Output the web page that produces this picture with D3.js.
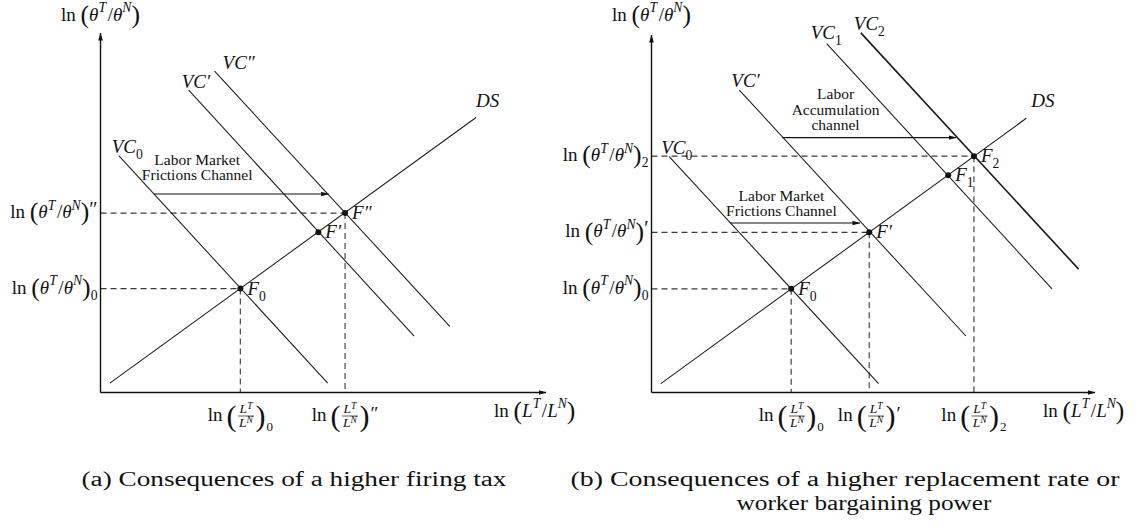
<!DOCTYPE html>
<html><head><meta charset="utf-8">
<script src="https://cdn.jsdelivr.net/npm/d3@7"></script>
<style>
body{margin:0;background:#fff}
svg{display:block}
text{font-family:"Liberation Serif","Times New Roman",serif;fill:#111;white-space:pre}
</style></head><body>
<svg id="chart" width="1138" height="528"></svg>
<script>
// ================= DATA (model units, 0–10 on both axes) =================
// ---- Panel (a): higher firing tax ----
const aLineLabel = ["DS", "VC", "VC′", "VC″"];
const aLineSub   = ["", "0", "", ""];
const aLineX1 = [0.21, 0.41, 1.98, 2.56];
const aLineY1 = [0.26, 6.59, 8.41, 8.94];
const aLineX2 = [8.43, 5.10, 7.04, 7.84];
const aLineY2 = [7.65, 0.26, 1.57, 1.84];
const aPointLabel = ["F", "F′", "F″"];
const aPointSub   = ["0", "", ""];
const aPointX = [3.14, 4.89, 5.49];
const aPointY = [2.89, 4.46, 4.99];
const aGuideIdx = [0, 2];            // equilibria with dashed guides / tick labels
const aTickSub  = ["0", ""];
const aTickSup  = ["", "″"];
const aArrowX1 = [1.20], aArrowX2 = [5.12], aArrowY = [5.52];
const aArrowText  = [["Labor Market", "Frictions Channel"]];
const aArrowTextX = [2.17], aArrowTextY = [5.91];

// ---- Panel (b): higher replacement rate / bargaining power ----
const bLineLabel = ["DS", "VC", "VC′", "VC", "VC"];
const bLineSub   = ["", "0", "", "1", "2"];
const bLineX1 = [0.21, 0.40, 1.98, 3.95, 4.72];
const bLineY1 = [0.25, 6.60, 8.46, 9.76, 10.06];
const bLineX2 = [8.45, 5.12, 7.09, 9.03, 9.63];
const bLineY2 = [7.67, 0.25, 1.58, 2.90, 3.45];
const bPointLabel = ["F", "F′", "F", "F"];
const bPointSub   = ["0", "", "1", "2"];
const bPointX = [3.15, 4.91, 6.69, 7.27];
const bPointY = [2.90, 4.48, 6.08, 6.61];
const bGuideIdx = [0, 1, 3];
const bTickSub  = ["0", "", "2"];
const bTickSup  = ["", "′", ""];
const bArrowX1 = [1.77, 2.95], bArrowX2 = [4.70, 6.87], bArrowY = [4.74, 7.13];
const bArrowText  = [["Labor Market", "Frictions Channel"], ["Labor", "Accumulation", "channel"]];
const bArrowTextX = [2.93, 4.15], bArrowTextY = [4.93, 7.34];

// ---- captions ----
const captionA = ["(a) Consequences of a higher firing tax"];
const captionB = ["(b) Consequences of a higher replacement rate or", "worker bargaining power"];

// ================= LAYOUT =================
const panels = [
  { x: d3.scaleLinear().domain([0,10]).range([100.5, 546]),
    y: d3.scaleLinear().domain([0,10]).range([392.5, 33]),
    L: {label:aLineLabel, sub:aLineSub, x1:aLineX1, y1:aLineY1, x2:aLineX2, y2:aLineY2},
    P: {label:aPointLabel, sub:aPointSub, x:aPointX, y:aPointY},
    guide: aGuideIdx, tsub: aTickSub, tsup: aTickSup,
    A: {x1:aArrowX1, x2:aArrowX2, y:aArrowY, text:aArrowText, tx:aArrowTextX, ty:aArrowTextY},
    labOff: [[1,0,-10],[0,-7,-3],[0,-7,-2],[0,8,-2]],   // [anchorEnd?, dx, dy]
    bold: [] ,
    caption: captionA, capX: [294], capW: [425] },
  { x: d3.scaleLinear().domain([0,10]).range([651.5, 1095]),
    y: d3.scaleLinear().domain([0,10]).range([392.5, 35]),
    L: {label:bLineLabel, sub:bLineSub, x1:bLineX1, y1:bLineY1, x2:bLineX2, y2:bLineY2},
    P: {label:bPointLabel, sub:bPointSub, x:bPointX, y:bPointY},
    guide: bGuideIdx, tsub: bTickSub, tsup: bTickSup,
    A: {x1:bArrowX1, x2:bArrowX2, y:bArrowY, text:bArrowText, tx:bArrowTextX, ty:bArrowTextY},
    labOff: [[1,5,-11],[0,-8,-3],[0,-8,-3],[0,-16,-5],[0,-7,-3]],
    bold: [4],
    caption: captionB, capX: [845, 864], capW: [549, 255] }
];

const svg = d3.select("#chart");
const defs = svg.append("defs");
defs.append("marker").attr("id","ah").attr("viewBox","0 -3 8 6")
  .attr("refX",7.5).attr("refY",0).attr("markerUnits","userSpaceOnUse")
  .attr("markerWidth",8).attr("markerHeight",6).attr("orient","auto")
  .append("path").attr("d","M0,-2.3L8,0L0,2.3Z").attr("fill","#111");

// math text helper: tokens [string, kind]
function addMath(sel, tokens, size) {
  let cur = 0;
  tokens.forEach(([s, k]) => {
    let fs = size, shift = 0, it = false;
    if (k === "i") it = true;
    else if (k === "sup") { fs = size*0.72; shift = -size*0.45; }
    else if (k === "isup") { fs = size*0.72; shift = -size*0.45; it = true; }
    else if (k === "sub") { fs = size*0.72; shift = size*0.32; }
    else if (k === "isub") { fs = size*0.72; shift = size*0.32; it = true; }
    else if (k === "big") { fs = size*1.35; shift = size*0.12; }
    else if (k === "prime") { fs = size*1.05; shift = -size*0.12; }
    else if (k === "sp") { fs = size; }
    const t = sel.append("tspan").text(s).attr("font-size", fs).attr("dy", shift - cur);
    if (it) t.attr("font-style","italic");
    cur = shift;
  });
}
const thetaTokens = [["ln","r"],["\u2005","sp"],["(","big"],["θ","i"],["T","isup"],["\u200a/","r"],["θ","i"],["N","isup"],[")","big"]];

function fracLabel(g, cx, y0, sub, sup) {
  const grp = g.append("g");
  const ln = grp.append("text").attr("x",0).attr("y",y0+28).attr("font-size",19).text("ln");
  let x = ln.node().getComputedTextLength() + 4;
  const lp = grp.append("text").attr("x",x).attr("y",y0+33).attr("font-size",30).text("(");
  x += lp.node().getComputedTextLength() + 1.5;
  const num = grp.append("text").attr("y", y0+20.5).attr("font-size",13.5);
  num.append("tspan").attr("font-style","italic").text("L");
  num.append("tspan").attr("font-style","italic").attr("font-size",9.5).attr("dy",-4.5).text("T");
  const den = grp.append("text").attr("y", y0+34.5).attr("font-size",13.5);
  den.append("tspan").attr("font-style","italic").text("L");
  den.append("tspan").attr("font-style","italic").attr("font-size",9.5).attr("dy",-4.5).text("N");
  const wn = num.node().getComputedTextLength(), wd = den.node().getComputedTextLength();
  const fw = Math.max(wn, wd) + 2;
  num.attr("x", x + (fw-wn)/2); den.attr("x", x + (fw-wd)/2);
  grp.append("line").attr("x1",x).attr("x2",x+fw).attr("y1",y0+23.5).attr("y2",y0+23.5)
    .attr("stroke","#111").attr("stroke-width",0.7);
  x += fw + 1.5;
  const rp = grp.append("text").attr("x",x).attr("y",y0+33).attr("font-size",30).text(")");
  x += rp.node().getComputedTextLength() + 1;
  if (sub) grp.append("text").attr("x",x).attr("y",y0+38.5).attr("font-size",13).text(sub);
  if (sup) grp.append("text").attr("x",x).attr("y",y0+27).attr("font-size",19).text(sup);
  const bb = grp.node().getBBox();
  grp.attr("transform", `translate(${cx - bb.width/2 - bb.x},0)`);
}

panels.forEach(p => {
  const g = svg.append("g");
  const X = p.x, Y = p.y;
  const ox = X(0), oy = Y(0);

  // dashed guides
  p.guide.forEach(i => {
    const px = X(p.P.x[i]), py = Y(p.P.y[i]);
    g.append("line").attr("x1",ox).attr("x2",px).attr("y1",py).attr("y2",py)
      .attr("stroke","#3a3a3a").attr("stroke-width",1.2).attr("stroke-dasharray","6,4");
    g.append("line").attr("x1",px).attr("x2",px).attr("y1",py).attr("y2",oy)
      .attr("stroke","#555").attr("stroke-width",1.3).attr("stroke-dasharray","6,4");
  });

  // axes
  g.append("line").attr("x1",ox).attr("x2",ox).attr("y1",oy).attr("y2",Y(10))
    .attr("stroke","#111").attr("stroke-width",1.4).attr("marker-end","url(#ah)");
  g.append("line").attr("x1",ox).attr("x2",X(10)).attr("y1",oy).attr("y2",oy)
    .attr("stroke","#111").attr("stroke-width",1.4).attr("marker-end","url(#ah)");

  // axis titles
  const yt = g.append("text").attr("x",ox).attr("y",21).attr("text-anchor","middle");
  addMath(yt, thetaTokens, 19);
  const xt = g.append("text").attr("x",X(10)-52).attr("y",oy+24);
  addMath(xt, [["ln","r"],["\u2005","sp"],["(","big"],["L","i"],["T","isup"],["\u200a/","r"],["L","i"],["N","isup"],[")","big"]], 19);

  // curves
  p.L.label.forEach((lab, i) => {
    g.append("line")
      .attr("x1",X(p.L.x1[i])).attr("y1",Y(p.L.y1[i]))
      .attr("x2",X(p.L.x2[i])).attr("y2",Y(p.L.y2[i]))
      .attr("stroke","#1a1a1a").attr("stroke-width", p.bold.includes(i) ? 1.6 : 1.05);
    const [atEnd, dx, dy] = p.labOff[i];
    const lx = atEnd ? X(p.L.x2[i]) : X(p.L.x1[i]);
    const ly = atEnd ? Y(p.L.y2[i]) : Y(p.L.y1[i]);
    const t = g.append("text").attr("x",lx+dx).attr("y",ly+dy);
    const toks = [[lab,"i"]];
    if (p.L.sub[i]) toks.push([p.L.sub[i],"sub"]);
    addMath(t, toks, 19);
  });

  // annotation arrows
  p.A.x1.forEach((x1, i) => {
    g.append("line").attr("x1",X(x1)).attr("x2",X(p.A.x2[i]))
      .attr("y1",Y(p.A.y[i])).attr("y2",Y(p.A.y[i]))
      .attr("stroke","#111").attr("stroke-width",1.1).attr("marker-end","url(#ah)");
    const lines = p.A.text[i];
    lines.forEach((s, j) => {
      g.append("text").attr("x",X(p.A.tx[i]))
        .attr("y",Y(p.A.ty[i]) - (lines.length-1-j)*15.5)
        .attr("text-anchor","middle").attr("font-size",15.5).attr("fill","#222").text(s);
    });
  });

  // equilibrium points
  p.P.label.forEach((lab, i) => {
    const px = X(p.P.x[i]), py = Y(p.P.y[i]);
    g.append("circle").attr("cx",px).attr("cy",py).attr("r",3).attr("fill","#111");
    const t = g.append("text").attr("x",px+7).attr("y",py+6);
    const toks = [[lab,"i"]];
    if (p.P.sub[i]) toks.push([p.P.sub[i],"sub"]);
    addMath(t, toks, 19);
  });

  // tick labels
  p.guide.forEach((idx, k) => {
    const py = Y(p.P.y[idx]), px = X(p.P.x[idx]);
    const t = g.append("text").attr("x",ox-3).attr("y",py+5).attr("text-anchor","end");
    const toks = thetaTokens.slice();
    if (p.tsub[k]) toks.push([p.tsub[k],"sub"]);
    if (p.tsup[k]) toks.push([p.tsup[k],"prime"]);
    addMath(t, toks, 19);
    fracLabel(g, px, oy, p.tsub[k], p.tsup[k]);
  });

  // captions
  p.caption.forEach((s, j) => {
    g.append("text").attr("x",p.capX[j]).attr("y",486 + j*23.5)
      .attr("text-anchor","middle").attr("font-size",20.5)
      .attr("textLength",p.capW[j]).attr("lengthAdjust","spacingAndGlyphs").text(s);
  });
});
</script></body></html>
